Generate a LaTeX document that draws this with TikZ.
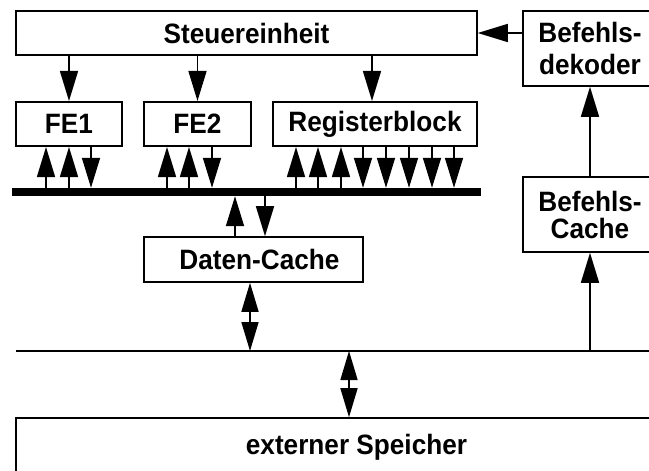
\documentclass[tikz,border=0pt]{standalone}
\usepackage{fontspec}
\setmainfont{Liberation Sans}
\newfontfamily\labelfont[FakeStretch=0.935]{Liberation Sans}
\usetikzlibrary{arrows.meta}
\begin{document}
\begin{tikzpicture}[x=1pt,y=-1pt,
  box/.style={draw, line width=1.6pt, inner sep=0pt,
    font=\labelfont\bfseries\fontsize{28}{32}\selectfont},
  arr/.style={line width=1.6pt, -{Triangle[length=30pt,width=18pt]}},
  dbl/.style={line width=1.6pt,
    {Triangle[length=29pt,width=17pt]}-{Triangle[length=29pt,width=17pt]}}]
\useasboundingbox (0,0) rectangle (649,471);
\clip (0,0) rectangle (649,471);

% units
\node[box, minimum width=461pt, minimum height=44pt] (se) at (246.5,33) {Steuereinheit};
\node[box, align=center, minimum width=134pt, minimum height=75pt] (dek) at (590,48.5) {Befehls-\\dekoder};
\node[box, minimum width=106pt, minimum height=44.5pt] (fe1) at (69,124) {FE1};
\node[box, minimum width=107pt, minimum height=44.5pt] (fe2) at (197.5,124) {FE2};
\node[box, minimum width=204pt, minimum height=44.5pt] (rb) at (375,124) {Registerblock};

% internal data bus
\node[fill=black, inner sep=0pt, minimum width=469pt, minimum height=8pt] (bus) at (246.5,192) {};

\node[box, minimum width=219pt, minimum height=45pt] (dc) at (253.5,259.5) {\hspace*{12pt}Daten-Cache};
\node[box, align=center, minimum width=134pt, minimum height=75pt,
  font=\labelfont\bfseries\fontsize{28}{27}\selectfont] (bc) at (590,214.5) {Befehls-\\Cache};

% external bus
\coordinate (memL) at (16,351);
\coordinate (memR) at (660,351);
\draw[line width=1.6pt] (memL) -- (memR);

\node[box, minimum width=681pt, minimum height=72pt, text height=20pt, text depth=20pt] (mem) at (356.5,454) {externer Speicher};

% control lines
\draw[arr] (dek.west |- se.east) -- (se.east);
\draw[arr] (se.south -| fe1.north) -- (fe1.north);
\draw[arr] (se.south -| fe2.north) -- (fe2.north);
\draw[arr] (372,0 |- se.south) -- (372,0 |- rb.north);

% functional units <-> bus
\foreach \x in {46,69,167,189,296,318,341}
  \draw[arr] (\x,0 |- bus.north) -- (\x,0 |- rb.south);
\foreach \x in {91,212,363,386,409,432,454}
  \draw[arr] (\x,0 |- rb.south) -- (\x,0 |- bus.north);

% data cache
\draw[arr] (235,0 |- dc.north) -- (235,0 |- bus.south);
\draw[arr] (265,0 |- bus.south) -- (265,0 |- dc.north);
\draw[dbl] (250,0 |- dc.south) -- (250,0 |- memL);
\draw[dbl] (349,0 |- memL) -- (349,0 |- mem.north);

% instruction path
\draw[arr] (bc.south |- memL) -- (bc.south);
\draw[arr] (bc.north) -- (dek.south);
\end{tikzpicture}
\end{document}
